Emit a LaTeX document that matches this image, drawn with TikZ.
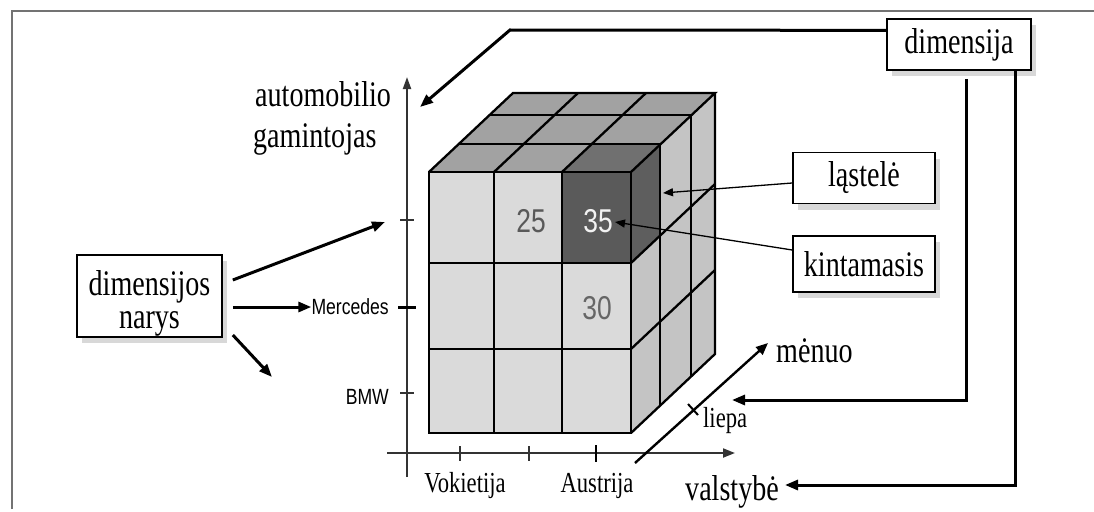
\documentclass[tikz,border=0pt]{standalone}
\usepackage{fontspec}
\setmainfont{Liberation Serif}
\newfontfamily\sansf{Liberation Sans}
\usepackage{graphicx}
\usetikzlibrary{arrows.meta,shadows,calc}
\newcommand\sq[1]{\scalebox{0.78}[1]{#1}}
\newcommand\sqs[1]{\scalebox{0.8}[1]{#1}}
\definecolor{frontc}{HTML}{DADADA}
\definecolor{topc}{HTML}{A2A2A2}
\definecolor{topdark}{HTML}{707070}
\definecolor{sidec}{HTML}{C4C4C4}
\definecolor{sidedark}{HTML}{5E5E5E}
\definecolor{celldark}{HTML}{5A5A5A}
\begin{document}
\begin{tikzpicture}[x=1pt,y=-1pt,
 conn/.style={line width=3pt, -{Triangle[length=13pt,width=10pt]}},
 thinconn/.style={line width=1.3pt, -{Triangle[length=10pt,width=8pt]}},
 box/.style={draw, line width=1.6pt, fill=white, inner sep=0pt,
   font=\fontsize{36}{33}\selectfont,
   drop shadow={shadow xshift=5pt, shadow yshift=-6pt, fill=black!30, opacity=0.5}},
 lab/.style={inner sep=0pt, font=\fontsize{36}{33}\selectfont},
 smalllab/.style={inner sep=0pt, font=\fontsize{29}{30}\selectfont},
 sanslab/.style={inner sep=0pt, font=\sansf\fontsize{22}{24}\selectfont},
 numlab/.style={inner sep=0pt, font=\sansf\fontsize{33}{34}\selectfont},
 axisline/.style={line width=2pt, draw=black!80},
 tickline/.style={line width=1.6pt, draw=black!80},
 thingrid/.style={line width=1.4pt},
 thickgrid/.style={line width=2.3pt},
 framestyle/.style={line width=2.4pt, draw=black!55}
]
\useasboundingbox (0,0) rectangle (1094,511);

% frame
\draw[framestyle] (12,509) -- (12,11) -- (1094,11);

% ---------- cube ----------
% top face
\foreach \ka/\ya/\kb/\yb [count=\k] in {0/0/29/28,29/28/60/57,60/57/84/79}{
  \foreach \xa/\xb [count=\i] in {429/494,494/562,562/631}{
    \ifnum\k\i=13 \def\col{topdark}\else\def\col{topc}\fi
    \fill[fill=\col] ({\xa+\ka},{172-\ya}) -- ({\xb+\ka},{172-\ya}) -- ({\xb+\kb},{172-\yb}) -- ({\xa+\kb},{172-\yb}) -- cycle;
  }}
% side face
\foreach \ka/\ya/\kb/\yb [count=\k] in {0/0/29/28,29/28/60/57,60/57/84/79}{
  \foreach \ytop/\ybot [count=\j] in {172/263,263/349,349/433}{
    \ifnum\k\j=11 \def\col{sidedark}\else\def\col{sidec}\fi
    \fill[fill=\col] ({631+\ka},{\ytop-\ya}) -- ({631+\kb},{\ytop-\yb}) -- ({631+\kb},{\ybot-\yb}) -- ({631+\ka},{\ybot-\ya}) -- cycle;
  }}
% front face
\foreach \xa/\xb [count=\i] in {429/494,494/562,562/631}{
  \foreach \ytop/\ybot [count=\j] in {172/263,263/349,349/433}{
    \ifnum\i\j=31 \def\col{celldark}\else\def\col{frontc}\fi
    \fill[fill=\col] (\xa,\ytop) rectangle (\xb,\ybot);
  }}
% grid lines
\draw[thingrid] (494,172) -- (494,433) (562,172) -- (562,433);
\draw[thickgrid] (429,263) -- (631,263);
\draw[line width=2.8pt] (429,349) -- (631,349);
\draw[thickgrid] (494,172) -- (578,93) (562,172) -- (646,93);
\draw[thickgrid] (458,144) -- (660,144) (489,115) -- (691,115);
\draw[thingrid] (660,144) -- (660,405);
\draw[thickgrid] (691,115) -- (691,376);
\draw[thickgrid] (631,263) -- (715,184) (631,349) -- (715,270);
% outline
\draw[thickgrid, line join=miter] (429,172) rectangle (631,433);
\draw[thickgrid, line join=miter] (429,172) -- (513,93) -- (715,93) -- (631,172)
  (715,93) -- (715,354) -- (631,433);

% cell values
\node[numlab, text=black!65] (v25) at (531,221) {\sqs{25}};
\node[numlab, text=black!5] (v35) at (598,221) {\sqs{35}};
\node[numlab, text=black!60] (v30) at (597,308) {\sqs{30}};

% ---------- axes ----------
\coordinate (vbot) at (407,477);
\coordinate (vtop) at (407,77);
\coordinate (hleft) at (387,453);
\coordinate (hright) at (735,453);
\coordinate (mstart) at (635,463);
\coordinate (mend) at (768,343);
\draw[axisline, -{Triangle[length=12pt,width=8pt]}] (vbot) -- (vtop);
\draw[axisline, -{Triangle[length=12pt,width=9pt]}] (hleft) -- (hright);
\draw[line width=2.4pt, -{Triangle[length=12pt,width=10pt]}] (mstart) -- (mend);
% ticks
\draw[tickline] (400,220) -- (414,220) (400,393) -- (414,393);
\draw[line width=3pt] (398,307) -- (416,307);
\draw[tickline] (460,446) -- (460,461) (529,446) -- (529,461);
\draw[line width=2.4pt] (596,445) -- (596,462);
\draw[line width=2pt] (688,404) -- (698,415);

% axis labels
\node[lab, anchor=base west] (auto) at (255,106) {\sq{automobilio}};
\node[lab, anchor=base west] (gamin) at (253,147) {\sq{gamintojas}};
\node[sanslab, anchor=east] (merc) at (389,307) {\sqs{Mercedes}};
\node[sanslab, anchor=east] (bmw) at (389,397) {\sqs{BMW}};
\node[smalllab, anchor=base] (vok) at (465,492) {\sq{Vokietija}};
\node[smalllab, anchor=base] (aus) at (597,492) {\sq{Austrija}};
\node[lab, anchor=base west] (valst) at (685,500) {\sq{valstybė}};
\node[smalllab, anchor=base west] (liepa) at (703,427) {\sq{liepa}};
\node[lab, anchor=base west] (menuo) at (776,362) {\sq{mėnuo}};

% ---------- boxes ----------
\node[box, minimum width=144pt, minimum height=51pt] (dim) at (959,44.5) {\sq{dimensija}};
\node[box, minimum width=142pt, minimum height=51pt] (last) at (864,178) {\sq{ląstelė}};
\node[box, minimum width=142pt, minimum height=56pt] (kint) at (864,264) {\sq{kintamasis}};
\node[box, minimum width=145pt, minimum height=82pt, text height=40pt, text depth=41pt] (nar) at (149.5,296)
  {\sq{\renewcommand\arraystretch{1}\begin{tabular}[t]{@{}c@{}}dimensijos\\narys\end{tabular}}};

% ---------- connectors ----------
\coordinate (bend) at (510,30);
\coordinate (autotip) at (420,107);
\coordinate (mx) at (966,0);
\coordinate (vx) at (1015,0);
\coordinate (mtip) at (732,400);
\coordinate (vtip) at (785,485);
\coordinate (ltip) at (663,193);
\coordinate (ktip) at (615,222);
\coordinate (ntip1) at (385,222);
\coordinate (ntip3) at (272,377);

\draw[conn] (dim.169) -- (bend) -- (autotip);
\draw[conn] ([yshift=-8pt]dim.south -| mx) |- (mtip);
\draw[conn] (dim.south -| vx) |- (vtip);
\draw[thinconn] ([yshift=-5pt]last.west) -- (ltip);
\draw[thinconn] ([yshift=14pt]kint.west) -- (ktip);
\draw[conn] ([xshift=10pt,yshift=16pt]nar.east) -- (ntip1);
\draw[conn] ([xshift=10pt,yshift=-11pt]nar.east) -- (merc.west);
\draw[conn] ([xshift=10pt,yshift=-39pt]nar.east) -- (ntip3);
\end{tikzpicture}
\end{document}
